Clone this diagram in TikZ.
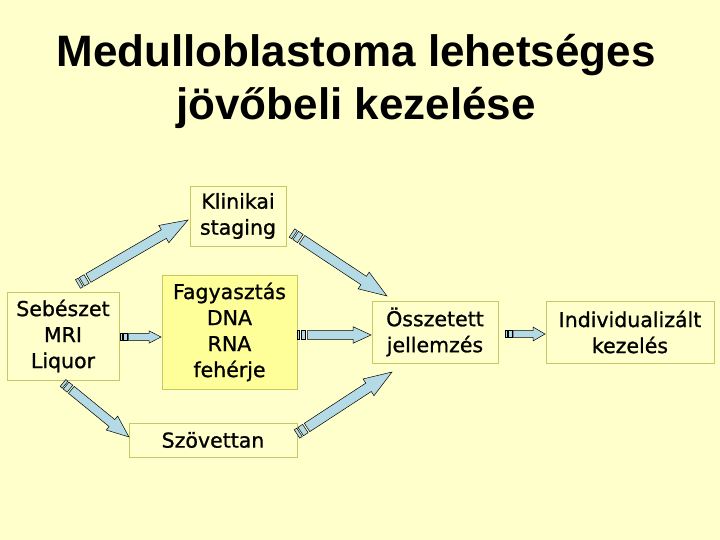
\documentclass[tikz,border=0pt]{standalone}
\usepackage{fontspec}
\usetikzlibrary{calc}
\newfontfamily\titlefont{Liberation Sans}
\newfontfamily\boxfont{DejaVu Sans}[FakeBold=1.0]
\definecolor{bgyellow}{RGB}{255,255,204}
\definecolor{boxline}{RGB}{200,200,100}
\definecolor{fagyfill}{RGB}{255,255,153}
\definecolor{arrowblue}{RGB}{180,218,230}
\tikzset{
  box/.style={draw=boxline, line width=0.9pt, inner sep=0pt, align=center,
    font=\boxfont\fontsize{20.5}{26}\selectfont},
  titletext/.style={inner sep=0pt, anchor=base, font=\titlefont\bfseries\fontsize{44}{53}\selectfont},
  arrowstyle/.style={fill=arrowblue, draw=black, line width=0.5pt, line join=miter},
}
\newcommand\stripearrow[5]{%
  \path let \p1=($(#2)-(#1)$), \n1={veclen(\x1,\y1)}, \n2={atan2(\y1,\x1)} in
    \pgfextra{\xdef\arrlen{\n1}\xdef\arrang{\n2}};
  \pgfmathsetmacro\arrL{\arrlen}%
  \pgfmathsetmacro\arrB{\arrL-#5}%
  \pgfmathsetmacro\arrA{0.6*#3}%
  \pgfmathsetmacro\arrC{0.9*#3}%
  \pgfmathsetmacro\arrD{2.0*#3}%
  \pgfmathsetmacro\arrE{2.4*#3}%
  \begin{scope}[shift={(#1)}, rotate=\arrang]
    \draw[arrowstyle] (0,-#3) rectangle (\arrA,#3);
    \draw[arrowstyle] (\arrC,-#3) rectangle (\arrD,#3);
    \draw[arrowstyle] (\arrE,-#3) -- (\arrB,-#3) -- (\arrB,-#4) -- (\arrL,0)
      -- (\arrB,#4) -- (\arrB,#3) -- (\arrE,#3) -- cycle;
  \end{scope}}
\begin{document}
\begin{tikzpicture}[x=1pt, y=-1pt]
  \fill[bgyellow] (0,0) rectangle (720,540);
  \useasboundingbox (0,0) rectangle (720,540);

  % title
  \node[titletext] (title1) at (356,67) {Medulloblastoma lehetséges};
  \node[titletext] (title2) at (356,120) {jövőbeli kezelése};

  % boxes
  \node[box, minimum width=96, minimum height=60] (klin) at (238,216) {Klinikai\\staging};
  \node[box, minimum width=112, minimum height=88] (seb) at (63,336) {Sebészet\\MRI\\Liquor};
  \node[box, fill=fagyfill, minimum width=135, minimum height=114] (fagy) at (229.5,332) {Fagyasztás\\DNA\\RNA\\fehérje};
  \node[box, minimum width=168, minimum height=34] (szov) at (213,440) {Szövettan};
  \node[box, minimum width=126, minimum height=62] (ossz) at (435,332) {Összetett\\jellemzés};
  \node[box, minimum width=168, minimum height=62] (indiv) at (630,332) {Individualizált\\kezelés};

  % arrow end points
  \coordinate (a1s) at (78,284);  \coordinate (a1e) at (188,220);
  \coordinate (a2s) at (292,233); \coordinate (a2e) at (387,296);
  \coordinate (a3s) at (120,337); \coordinate (a3e) at (161,337);
  \coordinate (a4s) at (297,335); \coordinate (a4e) at (371,335);
  \coordinate (a5s) at (63,383);  \coordinate (a5e) at (129,437);
  \coordinate (a6s) at (297,434); \coordinate (a6e) at (392,372);
  \coordinate (a7s) at (505,334); \coordinate (a7e) at (545,334);

  \stripearrow{a1s}{a1e}{5}{10}{28}
  \stripearrow{a2s}{a2e}{5}{10}{28}
  \stripearrow{a3s}{a3e}{3.6}{6.2}{12}
  \stripearrow{a4s}{a4e}{4.3}{8.3}{18}
  \stripearrow{a5s}{a5e}{4.5}{9}{22}
  \stripearrow{a6s}{a6e}{5}{10}{28}
  \stripearrow{a7s}{a7e}{3.4}{7}{12}
\end{tikzpicture}
\end{document}
